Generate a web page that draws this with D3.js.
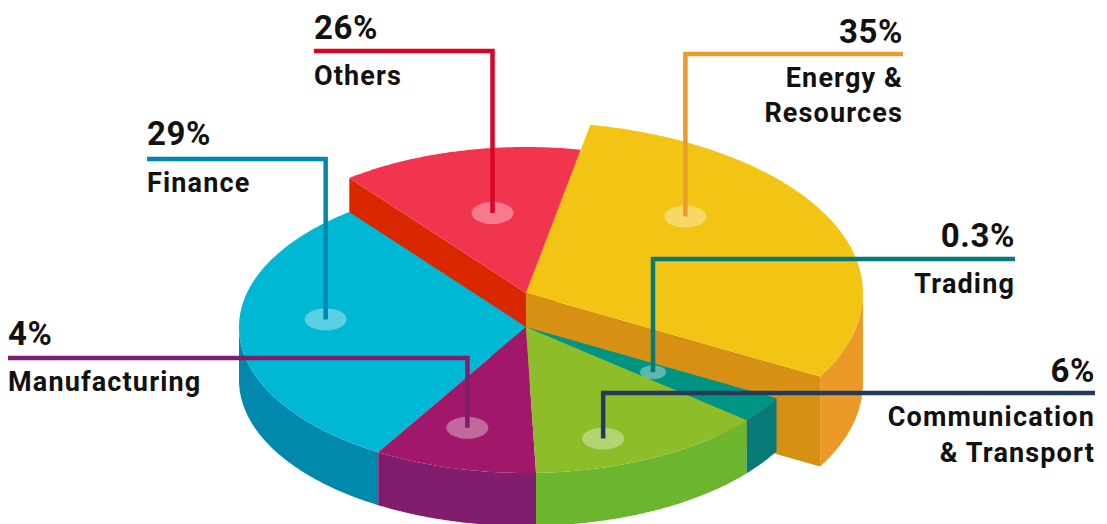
<!DOCTYPE html>
<html>
<head>
<meta charset="utf-8">
<script src="https://cdn.jsdelivr.net/npm/d3@7"></script>
<style>
  html, body { margin: 0; padding: 0; background: #fff; }
  svg text { font-family: Roboto, "Noto Sans", sans-serif; font-weight: 700; fill: #111; }
</style>
</head>
<body>
<svg class="chart" width="1107" height="524"></svg>
<script>
// slices in drawing order, clockwise from the Energy/Others cut
const categories = ["Energy & Resources", "Trading", "Communication & Transport", "Manufacturing", "Finance", "Others"];
const percentLabels = ["35%", "0.3%", "6%", "4%", "29%", "26%"];
// arc each slice takes in the picture (degrees) - the drawing does not follow the printed %
const arcShare = [108.2, 10.5, 48.3, 33, 111, 49];
const startDeg = 11;

// look of each slice
const sliceStyle = {
    "Energy & Resources":        {top: "#F2C414", wall: "#EB9A27", face: "#D69013", line: "#EB9B2A", lift: 34, k: 1.174, depth: 90},
    "Trading":                   {top: "#009483", wall: "#077A78", face: "#077A78", line: "#077A78", lift: 0,  k: 1,     depth: 53},
    "Communication & Transport": {top: "#8DBE2A", wall: "#6BB52F", face: "#6BB52F", line: "#233A5A", lift: 0,  k: 1,     depth: 53},
    "Manufacturing":             {top: "#A1186A", wall: "#801D6C", face: "#801D6C", line: "#7E1F6E", lift: 0,  k: 1,     depth: 53},
    "Finance":                   {top: "#00B8D4", wall: "#0088AD", face: "#0088AD", line: "#0088B0", lift: 0,  k: 1,     depth: 53},
    "Others":                    {top: "#F2354F", wall: "#D92800", face: "#D92800", line: "#D9042B", lift: 34, k: 1,     depth: 87}
};

// label blocks: anchor x, baseline of the %, leader y, baselines of the name lines
const labelLayout = {
    "Energy & Resources":        {x: 903,  anchor: "end",   pctY: 43,  lineY: 54,  names: ["Energy &", "Resources"], nameY: [87, 122], mark: [0.33, 0.65]},
    "Trading":                   {x: 1015, anchor: "end",   pctY: 247, lineY: 259, names: ["Trading"], nameY: [293], mark: [0.55, 0.54], small: true},
    "Communication & Transport": {x: 1095, anchor: "end",   pctY: 382, lineY: 393, names: ["Communication", "& Transport"], nameY: [426, 462], mark: [0.64, 0.81]},
    "Manufacturing":             {x: 8,    anchor: "start", pctY: 345, lineY: 358, names: ["Manufacturing"], nameY: [391], mark: [0.56, 0.72]},
    "Finance":                   {x: 147,  anchor: "start", pctY: 145, lineY: 159, names: ["Finance"], nameY: [192], mark: [0.57, 0.70]},
    "Others":                    {x: 314,  anchor: "start", pctY: 39,  lineY: 51,  names: ["Others"], nameY: [85], mark: [0.53, 0.56]}
};

const svg = d3.select("svg.chart");
const cx = 526, baseTop = 327, rx = 287, ry = 146;
const rad = Math.PI / 180;

const pie = d3.pie().sort(null).value(d => d)
    .startAngle(startDeg * rad)
    .endAngle(startDeg * rad + 2 * Math.PI);
const arcs = pie(arcShare).map((a, i) => Object.assign(a, {name: categories[i], pct: percentLabels[i]}));

function pt(a, k, yc) {
    return [cx + k * rx * Math.sin(a), yc - k * ry * Math.cos(a)];
}
function arcPts(a0, a1, k, yc) {
    let n = Math.max(2, Math.ceil(Math.abs(a1 - a0) / 0.01));
    return d3.range(n + 1).map(i => pt(a0 + (a1 - a0) * i / n, k, yc));
}
const line = d3.line();

function drawSlice(g, d) {
    let s = sliceStyle[d.name];
    let yTop = baseTop - s.lift, yBot = yTop + s.depth;
    let a0 = d.startAngle, a1 = d.endAngle;

    // side faces along the cut, only the lifted slices show them
    if (s.lift > 0) {
        if (Math.sin(a0) < 0) {
            let p = pt(a0, s.k, yTop), q = pt(a0, s.k, yBot);
            g.append("path").attr("d", line([[cx, yTop], p, q, [cx, yBot]]) + "Z").attr("fill", s.face);
        }
        if (Math.sin(a1) > 0) {
            let p = pt(a1, s.k, yTop), q = pt(a1, s.k, yBot);
            g.append("path").attr("d", line([[cx, yTop], p, q, [cx, yBot]]) + "Z").attr("fill", s.face);
        }
    }
    // outer wall, front half only
    let lo = Math.max(a0, Math.PI / 2), hi = Math.min(a1, 3 * Math.PI / 2);
    if (lo < hi) {
        let pts = arcPts(lo, hi, s.k, yTop).concat(arcPts(hi, lo, s.k, yBot));
        g.append("path").attr("d", line(pts) + "Z").attr("fill", s.wall);
    }
    d.topPath = [[cx, yTop]].concat(arcPts(a0, a1, s.k, yTop));
}

let pieG = svg.append("g").attr("class", "pie");
let byName = {};
arcs.forEach(d => byName[d.name] = d);

// raised slices first, then the base ones (walls before tops)
["Others", "Energy & Resources"].forEach(n => {
    let d = byName[n];
    drawSlice(pieG, d);
    pieG.append("path").attr("d", line(d.topPath) + "Z").attr("fill", sliceStyle[n].top);
});
let base = ["Finance", "Manufacturing", "Communication & Transport", "Trading"].map(n => byName[n]);
base.forEach(d => drawSlice(pieG, d));
base.forEach(d => pieG.append("path").attr("d", line(d.topPath) + "Z").attr("fill", sliceStyle[d.name].top));

// markers, leaders and labels
let labG = svg.append("g").attr("class", "labels");
arcs.forEach(d => {
    let s = sliceStyle[d.name], L = labelLayout[d.name];
    let a = d.startAngle + (d.endAngle - d.startAngle) * L.mark[0];
    let m = pt(a, s.k * L.mark[1], baseTop - s.lift);
    let mr = L.small ? [13, 7] : [21, 11];

    labG.append("ellipse")
        .attr("cx", m[0]).attr("cy", m[1])
        .attr("rx", mr[0]).attr("ry", mr[1])
        .attr("fill", "#fff").attr("fill-opacity", 0.35);

    labG.append("path")
        .attr("d", "M" + L.x + "," + L.lineY + "H" + m[0] + "V" + m[1])
        .attr("fill", "none")
        .attr("stroke", s.line)
        .attr("stroke-width", 4.5)
        .attr("stroke-linejoin", "miter");

    labG.append("text")
        .attr("x", L.x).attr("y", L.pctY)
        .attr("text-anchor", L.anchor)
        .style("font-size", "33px")
        .style("letter-spacing", "0.6px")
        .text(d.pct);

    L.names.forEach((t, j) => {
        labG.append("text")
            .attr("x", L.x).attr("y", L.nameY[j])
            .attr("text-anchor", L.anchor)
            .style("font-size", "27px")
            .style("letter-spacing", "1.15px")
            .text(t);
    });
});
</script>
</body>
</html>
